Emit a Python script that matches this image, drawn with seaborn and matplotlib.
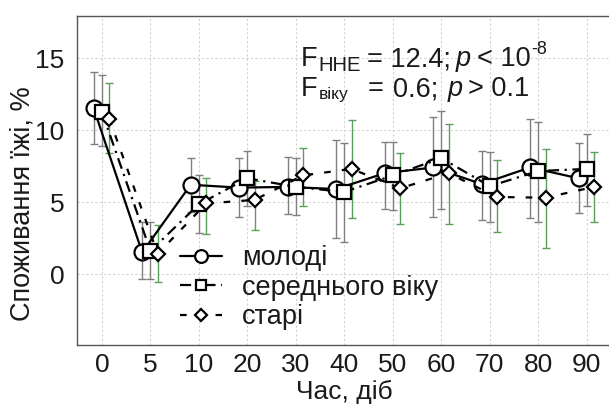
import numpy as np
import pandas as pd
import matplotlib
matplotlib.use("Agg")
import matplotlib.pyplot as plt
import seaborn as sns

# ---- data ----
times = ["0", "5", "10", "20", "30", "40", "50", "60", "70", "80", "90"]
groups = ["молоді", "середнього віку", "старі"]

young = [11.5, 1.5, 6.2, 6.0, 6.05, 5.9, 7.0, 7.4, 6.25, 7.4, 6.65]
young_lo = [9.0, -0.35, 4.3, 3.95, 4.15, 2.5, 4.5, 3.95, 3.75, 3.9, 4.25]
young_hi = [14.0, 3.6, 8.05, 8.05, 8.1, 9.3, 9.15, 10.9, 8.55, 10.75, 9.1]

middle = [11.25, 1.6, 4.85, 6.65, 6.05, 5.7, 6.85, 8.05, 6.1, 7.15, 7.3]
middle_lo = [8.9, -0.35, 2.85, 4.75, 4.1, 2.2, 4.45, 4.5, 3.6, 3.6, 4.7]
middle_hi = [13.8, 3.6, 6.9, 8.55, 8.05, 9.1, 9.15, 11.3, 8.5, 10.55, 9.7]

old = [10.8, 1.4, 4.9, 5.15, 6.85, 7.3, 5.95, 7.0, 5.35, 5.3, 6.05]
old_lo = [8.4, -0.55, 2.8, 3.05, 4.7, 3.9, 3.45, 3.45, 2.9, 1.8, 3.6]
old_hi = [13.3, 3.4, 6.7, 6.45, 8.75, 10.7, 8.4, 10.4, 7.9, 8.7, 8.45]

# ---- style ----
sns.set_style("white")
plt.rcParams["font.family"] = ["Liberation Sans", "DejaVu Sans"]

W, H = 609, 408
FS = 19.5
fig = plt.figure(figsize=(W / 100, H / 100), dpi=100)
ax = fig.add_axes([77 / W, 63 / H, 534 / W, 329 / H])

def P(x, y):
    return (x / W, 1 - y / H)

series = [
    (groups[0], young, young_lo, young_hi, -0.17, "o", 11.5, "-", "#7f7f7f"),
    (groups[1], middle, middle_lo, middle_hi, 0.0, "s", 9.5, (0, (5, 2.5, 1, 2.5)), "#7f7f7f"),
    (groups[2], old, old_lo, old_hi, 0.15, "D", 7.5, (0, (3, 5)), "#5a9e5a"),
]

idx = np.arange(len(times))
handles = []
for name, vals, lo, hi, off, mk, ms, ls, ecol in series:
    vals = np.array(vals)
    lo = np.array(lo)
    hi = np.array(hi)
    xpos = idx + off
    ax.errorbar(xpos, vals, yerr=[vals - lo, hi - vals], fmt="none",
                ecolor=ecol, elinewidth=1.0, capsize=3, capthick=1.0, zorder=1.5)
    df = pd.DataFrame({"x": xpos, "y": vals})
    sns.lineplot(data=df, x="x", y="y", ax=ax, color="black", linewidth=1.6,
                 linestyle=ls, marker=mk, markersize=ms, markerfacecolor="white",
                 markeredgecolor="black", markeredgewidth=1.6, label=name,
                 zorder=3, legend=False)
    handles.append(ax.lines[-1])

ax.set_xlim(-0.515, 10.5)
ax.set_ylim(-4.93, 17.92)
ax.set_xticks(idx)
ax.set_xticklabels(times)
ax.set_yticks([0, 5, 10, 15])
ax.tick_params(axis="both", length=0, labelsize=19, colors="#1a1a1a")
ax.tick_params(axis="x", pad=6)
ax.tick_params(axis="y", pad=9)
ax.grid(True, color="#d2d2d2", linestyle=(0, (2, 2)), linewidth=0.8)
ax.set_axisbelow(True)
for s in ax.spines.values():
    s.set_color("#555555")
    s.set_linewidth(1.0)

ax.set_xlabel("Час, діб", fontsize=19, color="#1a1a1a", labelpad=2)
ax.set_ylabel("Споживання їжі, %", fontsize=FS, color="#1a1a1a")
ax.yaxis.set_label_coords(-0.078, 0.43)

leg = ax.legend(handles=handles, labels=groups, loc="upper left",
                bbox_to_anchor=P(180, 245), bbox_transform=fig.transFigure,
                frameon=False, fontsize=FS, handlelength=1.55, handletextpad=0.75,
                labelspacing=0.13, borderpad=0, borderaxespad=0, markerscale=0.8)
for t in leg.get_texts():
    t.set_color("#1a1a1a")

# ---- annotation (laid out piece by piece, no overlaps) ----
tc = "#1a1a1a"
renderer = fig.canvas.get_renderer()

def put(x, y, s, size, prev_right=None, **kw):
    if prev_right is not None:
        x = max(x, prev_right + 1)
    t = fig.text(*P(x, y), s, fontsize=size, color=tc, va="baseline", ha="left", **kw)
    bb = t.get_window_extent(renderer=renderer)
    return bb.x1

r = put(301, 66, "F", FS)
r = put(r, 71, "ННЕ", 14.5, r)
r = put(r + 6, 66, "= 12.4;", FS, r)
r = put(r + 5, 66, "p", FS, r, style="italic")
r = put(r + 6, 66, "< 10", FS, r)
r = put(r, 54, "-8", 13, r)

r = put(301, 96, "F", FS)
r = put(r, 99, "віку", 12.5, r)
r = put(368, 96, "=", FS, r)
r = put(r + 9, 96, "0.6;", FS, r)
r = put(r + 9, 96, "p", FS, r, style="italic")
r = put(r + 6, 96, "> 0.1", FS, r)

fig.savefig("out.png", dpi=100)
